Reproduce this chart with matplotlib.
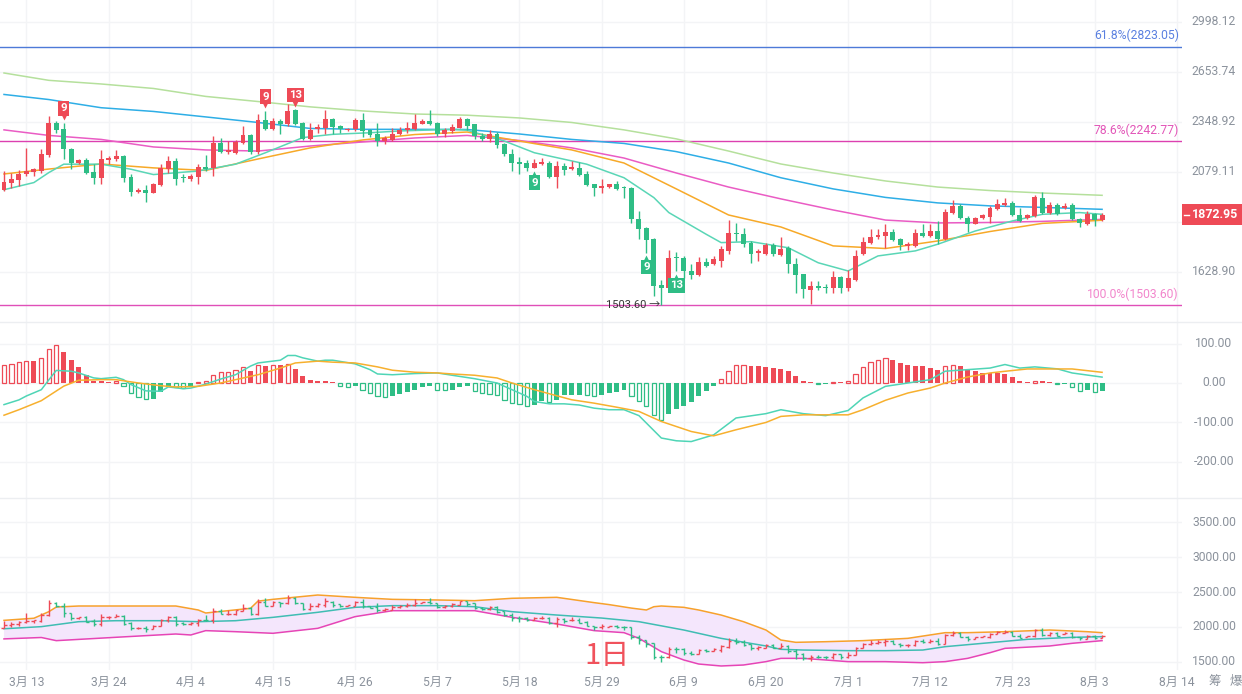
import numpy as np
import pandas as pd
import matplotlib
matplotlib.use("Agg")
import matplotlib.pyplot as plt
from matplotlib.collections import LineCollection
from matplotlib.patches import Rectangle, Polygon
from matplotlib.lines import Line2D
from matplotlib.ticker import NullLocator
from matplotlib.transforms import IdentityTransform, blended_transform_factory, offset_copy

plt.rcParams['font.family'] = ['Roboto', 'Noto Sans CJK SC', 'DejaVu Sans']

# ---------------- data ----------------
start_date = '2024-03-10'
n_days = 148

opens = [1988, 2024, 2040, 2070, 2080, 2084, 2167, 2343, 2307, 2198,
         2127, 2141, 2079, 2047, 2141, 2145, 2162, 2054, 1981, 1990,
         1977, 2014, 2093, 2136, 2055, 2045, 2055, 2105, 2098, 2233,
         2183, 2179, 2233, 2276, 2185, 2360, 2307, 2355, 2339, 2417,
         2345, 2255, 2307, 2317, 2364, 2326, 2304, 2307, 2359, 2302,
         2283, 2242, 2246, 2283, 2302, 2311, 2339, 2355, 2345, 2283,
         2298, 2317, 2368, 2336, 2270, 2252, 2279, 2224, 2174, 2130,
         2127, 2101, 2122, 2127, 2054, 2110, 2093, 2101, 2067, 2018,
         2001, 2006, 2018, 2004, 2001, 1852, 1812, 1767, 1578, 1565,
         1691, 1687, 1633, 1616, 1669, 1660, 1673, 1715, 1793, 1789,
         1750, 1705, 1701, 1739, 1698, 1728, 1662, 1620, 1559, 1574,
         1570, 1565, 1609, 1565, 1597, 1702, 1750, 1774, 1779, 1797,
         1764, 1736, 1736, 1793, 1779, 1800, 1764, 1883, 1913, 1860,
         1833, 1857, 1863, 1898, 1918, 1929, 1872, 1857, 1867, 1953,
         1880, 1918, 1906, 1917, 1855, 1830, 1878, 1848]
highs = [2084, 2076, 2088, 2203, 2101, 2198, 2383, 2355, 2345, 2206,
         2145, 2153, 2119, 2192, 2162, 2192, 2167, 2067, 2001, 2014,
         2026, 2119, 2162, 2153, 2067, 2067, 2119, 2166, 2270, 2261,
         2242, 2248, 2326, 2283, 2393, 2413, 2374, 2364, 2456, 2423,
         2350, 2342, 2336, 2417, 2374, 2332, 2317, 2374, 2403, 2307,
         2345, 2270, 2317, 2320, 2350, 2393, 2364, 2417, 2349, 2317,
         2336, 2378, 2374, 2339, 2288, 2302, 2294, 2233, 2198, 2157,
         2139, 2145, 2153, 2136, 2136, 2127, 2136, 2132, 2084, 2021,
         2042, 2021, 2034, 2009, 2004, 1890, 1818, 1771, 1596, 1717,
         1710, 1694, 1662, 1690, 1687, 1694, 1736, 1848, 1837, 1815,
         1757, 1722, 1750, 1750, 1775, 1736, 1687, 1622, 1594, 1594,
         1583, 1633, 1613, 1636, 1717, 1772, 1808, 1808, 1830, 1808,
         1771, 1754, 1808, 1830, 1830, 1845, 1898, 1940, 1924, 1867,
         1863, 1878, 1913, 1945, 1950, 1937, 1903, 1878, 1966, 1981,
         1934, 1929, 1929, 1929, 1860, 1890, 1883, 1880]
lows = [1985, 2001, 2009, 2059, 2059, 2076, 2157, 2288, 2145, 2093,
        2119, 2067, 2021, 2018, 2119, 2136, 2031, 1961, 1977, 1934,
        1974, 2009, 2076, 2014, 2031, 2034, 2018, 2084, 2059, 2179,
        2174, 2174, 2224, 2174, 2171, 2302, 2302, 2279, 2326, 2332,
        2246, 2250, 2288, 2279, 2283, 2288, 2298, 2298, 2265, 2265,
        2215, 2224, 2242, 2276, 2288, 2302, 2336, 2332, 2270, 2265,
        2288, 2313, 2302, 2252, 2242, 2239, 2203, 2162, 2084, 2071,
        2084, 2098, 2115, 2050, 2001, 2064, 2088, 2059, 2009, 1961,
        1977, 2001, 1988, 1953, 1835, 1764, 1708, 1536, 1503.6, 1562,
        1633, 1606, 1600, 1613, 1649, 1657, 1649, 1703, 1757, 1731,
        1666, 1673, 1698, 1694, 1694, 1626, 1549, 1528, 1508, 1558,
        1549, 1549, 1549, 1555, 1594, 1698, 1745, 1764, 1728, 1757,
        1717, 1717, 1731, 1775, 1774, 1743, 1761, 1878, 1852, 1797,
        1830, 1852, 1837, 1894, 1913, 1867, 1842, 1852, 1863, 1875,
        1875, 1872, 1898, 1848, 1818, 1827, 1822, 1845]
closes = [2030, 2045, 2067, 2084, 2093, 2171, 2343, 2305, 2198, 2127,
          2141, 2076, 2047, 2145, 2150, 2162, 2050, 1981, 1991, 1977,
          2018, 2101, 2136, 2045, 2047, 2059, 2105, 2093, 2233, 2183,
          2192, 2237, 2274, 2185, 2360, 2307, 2355, 2339, 2413, 2336,
          2255, 2305, 2322, 2368, 2320, 2307, 2311, 2360, 2298, 2276,
          2242, 2257, 2283, 2304, 2313, 2345, 2355, 2339, 2283, 2302,
          2322, 2368, 2326, 2270, 2252, 2279, 2221, 2171, 2127, 2122,
          2101, 2124, 2130, 2054, 2110, 2089, 2105, 2064, 2014, 2001,
          2009, 2018, 1993, 1998, 1852, 1808, 1761, 1574, 1565, 1687,
          1687, 1633, 1616, 1670, 1653, 1680, 1722, 1793, 1786, 1743,
          1701, 1715, 1739, 1701, 1722, 1660, 1616, 1562, 1574, 1565,
          1565, 1609, 1565, 1604, 1694, 1753, 1774, 1783, 1797, 1760,
          1740, 1745, 1793, 1779, 1800, 1764, 1887, 1913, 1857, 1833,
          1857, 1872, 1903, 1924, 1929, 1872, 1845, 1871, 1956, 1880,
          1918, 1875, 1913, 1852, 1837, 1878, 1848, 1872.95]

# moving averages (at sample candles)
ma_idx = [0, 6, 13, 20, 27, 34, 41, 48, 55, 62, 69, 76, 83, 90, 97, 104, 111, 118, 125, 132, 139, 147]
ma_lgreen = [2647, 2600, 2577, 2549, 2500, 2469, 2437, 2413, 2395, 2388, 2372, 2346, 2304, 2254, 2188, 2120, 2074, 2034, 2004, 1987, 1975, 1964]
ma_blue = [2512, 2481, 2432, 2410, 2378, 2346, 2312, 2307, 2307, 2306, 2281, 2251, 2229, 2185, 2125, 2050, 1995, 1954, 1928, 1914, 1907, 1898]
ma_pink = [2304, 2273, 2251, 2210, 2194, 2188, 2215, 2237, 2259, 2273, 2245, 2205, 2151, 2074, 2004, 1947, 1895, 1849, 1836, 1838, 1843, 1852]
ma_orange = [2069, 2094, 2120, 2100, 2087, 2146, 2205, 2248, 2278, 2292, 2242, 2194, 2125, 1995, 1872, 1818, 1736, 1725, 1757, 1798, 1834, 1848]
ma_fast_idx = [0, 4, 6, 8, 13, 17, 20, 26, 31, 35, 40, 44, 49, 53, 60, 62, 67, 71, 78, 83, 87, 89, 94, 96, 100, 105, 109, 113, 117, 122, 125, 130, 135, 139, 144, 147]
ma_fast = [1991, 2026, 2076, 2119, 2119, 2093, 2066, 2084, 2119, 2179, 2261, 2279, 2288, 2298, 2307, 2302, 2242, 2179, 2119, 2050, 1953, 1883, 1786, 1750, 1754, 1728, 1666, 1633, 1694, 1715, 1743, 1800, 1845, 1875, 1883, 1875]

fib_levels = [2823.05, 2242.77, 1503.60]
fib_labels = ['61.8%(2823.05)', '78.6%(2242.77)', '100.0%(1503.60)']

td_idx = [8, 35, 39, 71, 86, 90]
td_text = ['9', '9', '13', '9', '9', '13']
td_up = [True, True, True, False, False, False]

# MACD
macd_hist = [47.0, 48.7, 53.8, 56.4, 55.6, 64.1, 87.2, 95.7, 79.5, 57.3,
             41.9, 20.5, 6.0, 4.3, 3.4, 5.5, -8.5, -25.6, -36.8, -41.0,
             -40.2, -24.0, -10.3, -11.0, -11.5, -8.5, 2.6, 4.3, 21.4, 27.4,
             28.2, 34.2, 41.0, 31.6, 45.3, 44.4, 47.0, 45.3, 47.5, 36.8,
             17.1, 8.5, 4.3, 4.0, 1.7, -7.0, -9.0, -7.0, -17.0, -25.6,
             -34.2, -35.9, -34.2, -28.2, -24.0, -17.0, -10.3, -8.5, -17.0, -18.8,
             -17.0, -10.3, -6.8, -21.4, -25.6, -27.4, -29.9, -42.7, -51.3, -53.0,
             -57.3, -55.6, -45.3, -49.6, -42.7, -31.6, -29.9, -29.5, -31.6, -32.0,
             -29.8, -25.5, -23.0, -18.7, -34.0, -45.0, -57.9, -80.9, -95.3, -79.0,
             -65.5, -57.9, -48.5, -34.0, -21.3, -8.5, 10.2, 31.5, 45.0, 46.8,
             44.3, 42.6, 40.9, 38.3, 35.7, 29.8, 18.7, 4.3, 1.7, -2.6,
             -2.2, 2.6, 2.6, 6.0, 23.8, 40.9, 53.6, 59.6, 63.8, 59.6,
             51.0, 45.0, 44.3, 42.6, 38.3, 32.3, 42.6, 46.8, 42.6, 32.3,
             29.8, 25.5, 25.4, 25.3, 23.8, 14.5, 4.3, 2.6, 6.0, 4.3,
             2.6, -2.6, -2.2, -11.0, -19.6, -19.0, -22.0, -21.0]
dif_idx = [0, 2, 3, 5, 6, 7, 9, 10, 12, 13, 15, 16, 17, 19, 21, 22, 24, 25, 27, 29,
           31, 33, 34, 37, 38, 39, 40, 42, 43, 44, 47, 49, 50, 52, 55, 58, 60, 63, 66, 68,
           70, 71, 73, 75, 77, 79, 81, 83, 85, 88, 90, 92, 95, 98, 102, 104, 107, 110, 113, 115,
           118, 121, 124, 126, 129, 132, 134, 136, 138, 141, 143, 147]
dif = [-55, -43, -33, -17, 8, 32, 30, 25.6, 13, 11, 14.5, 8.5, -4, -20, -21, -10, -14.5, -13, -3, 10,
       21, 43, 51, 58, 70, 70, 64, 55.6, 58, 58, 48.7, 34, 23, 21, 24, 25.6, 19.7, 11, 0, -17,
       -34, -47, -53, -53, -56, -64, -68, -68, -83, -140, -147, -149, -132, -89, -78, -68, -78, -83, -70, -38,
       -8.5, 0, 8.5, 30, 34, 38, 47, 38, 41, 36, 25.5, 15]
dea_idx = [0, 2, 5, 8, 10, 13, 15, 18, 21, 23, 26, 29, 31, 34, 37, 39, 42, 44, 47, 50,
           52, 55, 58, 60, 63, 66, 68, 71, 74, 76, 79, 82, 85, 88, 92, 95, 98, 102, 104, 107,
           110, 113, 115, 118, 121, 124, 126, 129, 132, 134, 137, 143, 147]
dea = [-82, -68, -45, -8, 7, 8.5, 8.5, 0, -7, -10, -8.5, 0, 8.5, 21, 38, 51, 55.6, 53, 51, 41,
       32.5, 27.4, 25.6, 23, 19.7, 12.8, 0, -17, -32.5, -42.7, -51.3, -61.5, -72.3, -97.9, -123.4, -134.5, -119, -100.4, -85, -81,
       -81, -81, -68, -44, -25.5, -12.8, 0, 15.3, 25.5, 29.8, 35.7, 35.7, 27.2]

# Bollinger bands
bu_idx = [0, 4, 6, 7, 10, 15, 23, 26, 27, 29, 33, 34, 36, 42, 47, 52, 58, 63, 68, 74,
          79, 81, 84, 86, 87, 88, 91, 93, 96, 99, 102, 104, 106, 110, 115, 121, 126, 129, 134, 140, 145, 147]
boll_upper = [2095, 2125, 2219, 2285, 2300, 2300, 2300, 2243, 2200, 2222, 2267, 2370, 2395, 2457, 2424, 2395, 2386, 2376, 2410, 2424,
              2348, 2320, 2270, 2243, 2290, 2300, 2281, 2243, 2171, 2076, 1957, 1814, 1781, 1790, 1805, 1838, 1919, 1919, 1933, 1957, 1933, 1919]
bm_idx = [0, 5, 10, 15, 21, 26, 31, 36, 42, 47, 52, 58, 63, 68, 74, 80, 85, 91, 96, 102,
          104, 107, 113, 118, 123, 126, 132, 137, 143, 147]
boll_mid = [1975, 2005, 2076, 2090, 2090, 2076, 2090, 2138, 2210, 2281, 2305, 2305, 2290, 2219, 2171, 2128, 2076, 1957, 1838, 1729,
            1681, 1671, 1662, 1662, 1671, 1719, 1776, 1824, 1852, 1862]
bl_idx = [0, 5, 7, 15, 23, 25, 27, 31, 36, 42, 47, 52, 58, 63, 68, 74, 79, 83, 85, 88,
          91, 93, 96, 99, 102, 104, 107, 113, 118, 123, 126, 129, 132, 134, 140, 143, 147]
boll_lower = [1830, 1850, 1805, 1853, 1900, 1886, 1948, 1933, 1910, 1981, 2148, 2233, 2233, 2233, 2138, 2043, 1948, 1919, 1838, 1648,
              1529, 1471, 1443, 1457, 1505, 1552, 1552, 1505, 1505, 1490, 1505, 1552, 1633, 1695, 1729, 1767, 1805]

price_ticks = [2998.12, 2653.74, 2348.92, 2079.11, 1840.31, 1628.90]
macd_ticks = [100, 0, -100, -200]
boll_ticks = [3500, 3000, 2500, 2000, 1500]
date_tick_idx = [3, 14, 25, 36, 47, 58, 69, 80, 91, 102, 113, 124, 135, 146, 157]

# ---------------- styling ----------------
RED = '#ee4a56'
GREEN = '#2ebd85'
GRID = '#f3f4f6'
LABEL = '#8b929c'
W, H = 1242, 694
PLOT_R = 1182

dates = pd.date_range(start_date, periods=n_days, freq='D')
x = np.arange(n_days)
o = np.array(opens, float); hgh = np.array(highs, float)
lw_ = np.array(lows, float); c = np.array(closes, float)
up = c >= o
cols = np.where(up, RED, GREEN)

fig = plt.figure(figsize=(W / 100, H / 100), dpi=100)
fig.patch.set_facecolor('white')


def rect(top, bottom):
    return [0, 1 - bottom / H, PLOT_R / W, (bottom - top) / H]


ax1 = fig.add_axes(rect(0, 322))
ax2 = fig.add_axes(rect(322, 498))
ax3 = fig.add_axes(rect(498, 670))

XMIN, XMAX = -0.535, 157.7
tick_date = [pd.Timestamp(start_date) + pd.Timedelta(days=int(i)) for i in date_tick_idx]
tick_labels = [f"{d.month}月 {d.day}" for d in tick_date]

for ax in (ax1, ax2, ax3):
    ax.set_xlim(XMIN, XMAX)
    for s in ax.spines.values():
        s.set_visible(False)
    ax.set_axisbelow(True)
    ax.set_xticks(date_tick_idx)
    ax.grid(axis='both', color=GRID, lw=1)
    ax.tick_params(axis='both', which='both', length=0, labelleft=False, labelright=False, labelbottom=False)
    ax.set_facecolor('none')

# ---------- top panel ----------
ax1.set_yscale('log')
ax1.set_ylim(1441.8, 3163)
ax1.set_yticks(price_ticks)
ax1.yaxis.set_minor_locator(NullLocator())
ax1.tick_params(axis='y', which='both', length=0, labelleft=False, labelright=False)

ax1.plot(ma_idx, ma_lgreen, color='#b5e09c', lw=1.1, zorder=2)
ax1.plot(ma_idx, ma_blue, color='#2eaee6', lw=1.1, zorder=2)
ax1.plot(ma_idx, ma_pink, color='#ea5cc4', lw=1.1, zorder=2)
ax1.plot(ma_idx, ma_orange, color='#f7a928', lw=1.1, zorder=2)
ax1.plot(ma_fast_idx, ma_fast, color='#5ad6b6', lw=1.1, zorder=2)

fib_line_cols = ['#4d7ad8', '#dc40b0', '#e04fb8']
fib_text_cols = ['#5a80e0', '#e256b8', '#f286cc']
for lv, lb, lc, tc in zip(fib_levels, fib_labels, fib_line_cols, fib_text_cols):
    ax1.axhline(lv, color=lc, lw=1, zorder=1.5)
    ax1.annotate(lb, xy=(1179 / PLOT_R, lv), xycoords=('axes fraction', 'data'),
                 xytext=(0, 3), textcoords='offset points', ha='right', va='bottom',
                 fontsize=8.7, color=tc)

ax1.vlines(x, lw_, hgh, colors=cols, lw=1, zorder=3)
body_b = np.minimum(o, c)
body_h = np.maximum(np.abs(c - o), 2.5)
ax1.bar(x, body_h, bottom=body_b, width=0.66, color=cols, lw=0, zorder=4)

for i, t, isup in zip(td_idx, td_text, td_up):
    col = RED if isup else GREEN
    if isup:
        anchor = hgh[i]; off_box = 10.3; off_ptr = 4.0; mk = 'v'
    else:
        anchor = lw_[i]; off_box = -10.3; off_ptr = -4.0; mk = '^'
    ax1.annotate(t, xy=(i, anchor), xytext=(0, off_box), textcoords='offset points',
                 ha='center', va='center', color='white', fontsize=8.2, fontweight='bold',
                 bbox=dict(boxstyle='square,pad=0.2', fc=col, ec='none'), zorder=6)
    tr = offset_copy(ax1.transData, fig=fig, x=0, y=off_ptr, units='points')
    ax1.plot([i], [anchor], marker=mk, ms=4.5, color=col, mec='none', transform=tr, zorder=6)

low_i = int(np.argmin(lw_))
ax1.annotate(f"{lw_[low_i]:.2f} →", xy=(low_i, lw_[low_i]), xytext=(-1, 0), textcoords='offset points',
             ha='right', va='center', fontsize=8, color='#333333', zorder=6)

tr1 = blended_transform_factory(ax1.transAxes, ax1.transData)
for v in price_ticks:
    ax1.text(1214 / PLOT_R, v, f"{v:.2f}", transform=tr1, ha='center', va='center',
             fontsize=8.7, color=LABEL, clip_on=False)

# ---------- MACD panel ----------
ax2.set_ylim(-292.6, 155.2)
ax2.set_yticks(macd_ticks)
hist = np.array(macd_hist)
prev = np.concatenate([[0.0], hist[:-1]])
grow = np.where(hist >= 0, hist > prev, hist < prev)
hcols = np.where(hist >= 0, RED, GREEN)
ax2.bar(x[~grow], hist[~grow], width=0.66, color=hcols[~grow], lw=0, zorder=3)
ax2.bar(x[grow], hist[grow], width=0.56, facecolor='white', edgecolor=hcols[grow], lw=0.9, zorder=3)
ax2.plot(dif_idx, dif, color='#4fd5b6', lw=1.1, zorder=4)
ax2.plot(dea_idx, dea, color='#f7b02e', lw=1.1, zorder=4)
tr2 = blended_transform_factory(ax2.transAxes, ax2.transData)
for v in macd_ticks:
    ax2.text(1214 / PLOT_R, v, f"{v:.2f}", transform=tr2, ha='center', va='center',
             fontsize=8.7, color=LABEL, clip_on=False)

# ---------- Bollinger panel ----------
ax3.set_ylim(1385.7, 3842.9)
ax3.set_yticks(boll_ticks)
poly = list(zip(bu_idx, boll_upper)) + list(zip(bl_idx[::-1], boll_lower[::-1]))
ax3.add_patch(Polygon(poly, closed=True, facecolor='#f4e6fc', edgecolor='none', zorder=1))
ax3.plot(bu_idx, boll_upper, color='#f7a12c', lw=1.1, zorder=2)
ax3.plot(bm_idx, boll_mid, color='#3fbdb3', lw=1.1, zorder=2)
ax3.plot(bl_idx, boll_lower, color='#e645b6', lw=1.1, zorder=2)
segs, scol = [], []
for i in range(n_days):
    segs += [[(i, lw_[i]), (i, hgh[i])], [(i - 0.34, o[i]), (i, o[i])], [(i, c[i]), (i + 0.34, c[i])]]
    scol += [cols[i]] * 3
ax3.add_collection(LineCollection(segs, colors=scol, lw=1, zorder=3))
tr3 = blended_transform_factory(ax3.transAxes, ax3.transData)
for v in boll_ticks:
    ax3.text(1214 / PLOT_R, v, f"{v:.2f}", transform=tr3, ha='center', va='center',
             fontsize=8.7, color=LABEL, clip_on=False)
ax3.set_xticklabels(tick_labels)
ax3.tick_params(axis='x', labelbottom=True, labelsize=8.7, labelcolor=LABEL, pad=4.2)

# ---------- figure decorations ----------
for yy in (322, 498):
    fig.add_artist(Line2D([0, 1], [1 - yy / H] * 2, transform=fig.transFigure, color='#eceef1', lw=1))

fig.text(607 / W, 1 - 656 / H, '1日', color='#f0525c', fontsize=21, ha='center', va='center',
         family=['Noto Sans CJK SC', 'DejaVu Sans'])
fig.text(1215 / W, 1 - 681 / H, '筹', color=LABEL, fontsize=9, ha='center', va='center',
         family=['Noto Sans CJK SC', 'DejaVu Sans'])
fig.text(1236 / W, 1 - 681 / H, '爆', color=LABEL, fontsize=9, ha='center', va='center',
         family=['Noto Sans CJK SC', 'DejaVu Sans'])

last = c[-1]
yd = ax1.transData.transform((0, last))[1]
fig.add_artist(Rectangle((PLOT_R, yd - 10.5), W - PLOT_R, 21, transform=IdentityTransform(),
                         facecolor=RED, edgecolor='none', zorder=20))
fig.add_artist(Line2D([PLOT_R + 2, PLOT_R + 7], [yd, yd], transform=IdentityTransform(),
                      color='white', lw=1, zorder=21))
fig.text(1215, yd, f"{last:.2f}", transform=IdentityTransform(), color='white', fontsize=8.9,
         fontweight='bold', ha='center', va='center', zorder=22)

fig.savefig('out.png', dpi=100, facecolor='white')
